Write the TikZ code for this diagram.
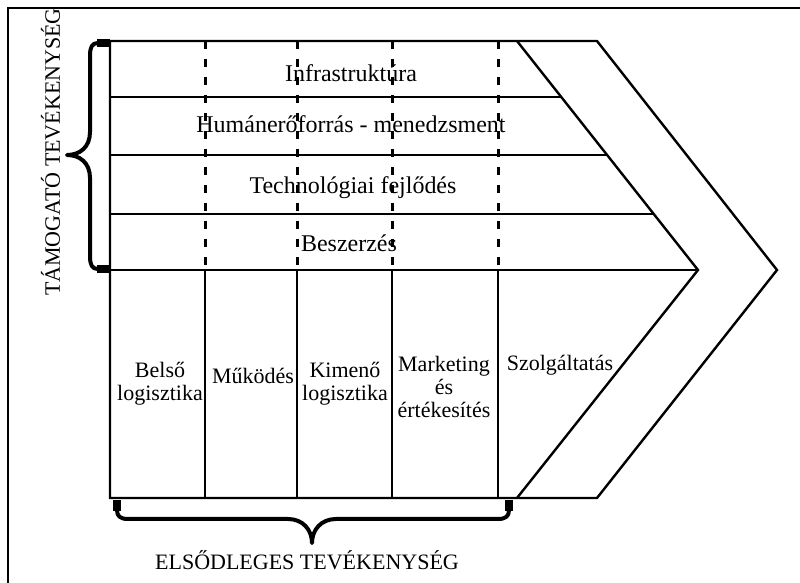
\documentclass[tikz,border=0pt]{standalone}
\usepackage{fontspec}
\setmainfont{Liberation Serif}

\begin{document}
\begin{tikzpicture}[x=0.5pt, y=-0.5pt, line width=1.2pt,
        part line/.style={line width=1.5pt, dash pattern=on 4pt off 5pt},
        brace line/.style={line width=2pt, line join=round},
        brace stub/.style={line width=4pt},
        row label/.style={font=\fontsize{12}{13}\selectfont, inner sep=0pt, anchor=base},
        cell label/.style={font=\fontsize{11}{11.7}\selectfont, align=center, inner sep=0pt, anchor=base}]
        \useasboundingbox (0,0) rectangle (800,583);

          % frame
          \draw[line width=1pt] (7.5,600) -- (7.5,8) -- (820,8);

          % outline of the chain
          \draw (110,41) -- (597,41) -- (777,270) -- (597,498) -- (110,498) -- cycle;
          \draw (517,41) -- (698,270) -- (517,498);
          \draw (110,270) -- (698,270);
          \foreach \y in {97,155,214}
            \draw (110,\y) -- ({517+(\y-41)*0.7904},\y);

          % columns
          \foreach \x in {205,297,392,498} {
            \draw[part line] (\x,41) -- (\x,270);
            \draw (\x,270) -- (\x,498);
          }

          % support rows
          \node[row label] (infra) at (351,82) {Infrastruktúra};
          \node[row label] (human) at (351,133) {Humánerőforrás - menedzsment};
          \node[row label] (tech) at (353,194) {Technológiai fejlődés};
          \node[row label] (beszer) at (349,252) {Beszerzés};

          % primary cells
          \node[cell label] (belso) at (160,401) {Belső\\logisztika};
          \node[cell label] (mukodes) at (253,384) {Működés};
          \node[cell label] (kimeno) at (345,401) {Kimenő\\logisztika};
          \node[cell label] (market) at (444,418) {Marketing\\és\\értékesítés};
          \node[cell label] (szolg) at (560,371) {Szolgáltatás};

          % left brace
          \draw[brace line] (98,43) .. controls (92,43) and (90,47) .. (90,56) -- (90,132)
            .. controls (90,147) and (80,155) .. (67,155)
            .. controls (80,155) and (90,163) .. (90,178) -- (90,256)
            .. controls (90,265) and (92,269) .. (98,269);
          \draw[brace stub] (97,43) -- (110,43);
          \draw[brace stub] (97,269) -- (110,269);

          % bottom brace
          \draw[brace line] (117,510) .. controls (117,516) and (120,519) .. (128,519) -- (288,519)
            .. controls (303,519) and (312,530) .. (312,543)
            .. controls (312,530) and (321,519) .. (336,519) -- (498,519)
            .. controls (506,519) and (509,516) .. (509,510);
          \draw[brace stub] (117,500) -- (117,511);
          \draw[brace stub] (509,500) -- (509,511);

          \node[cell label, rotate=90] (support) at (60,152) {TÁMOGATÓ TEVÉKENYSÉG};
          \node[cell label] (primary) at (307,570) {ELSŐDLEGES TEVÉKENYSÉG};

\end{tikzpicture}
\end{document}
